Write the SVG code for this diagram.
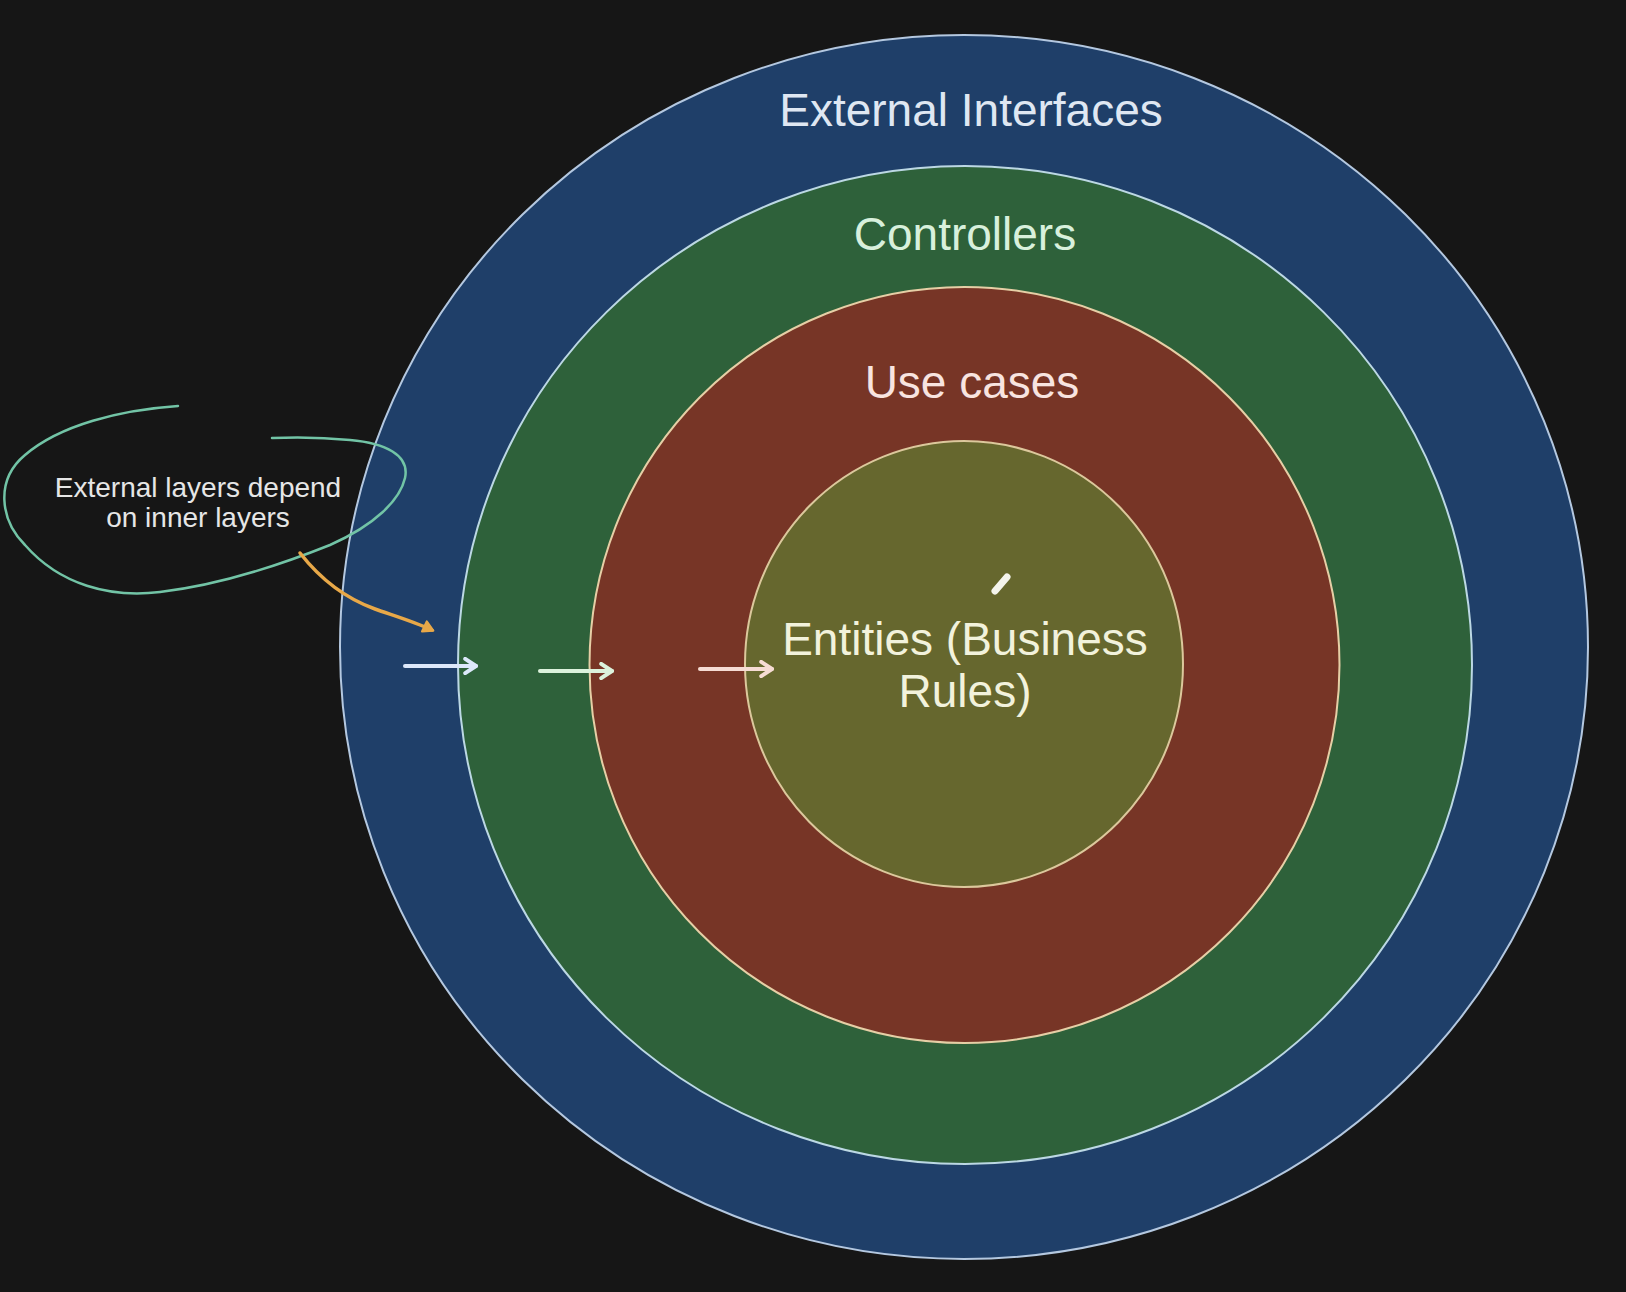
<svg xmlns="http://www.w3.org/2000/svg" width="1626" height="1292" viewBox="0 0 1626 1292">
<defs>
<style>
.lbl{font-family:"Liberation Sans",Arial,sans-serif;font-size:46px;text-anchor:middle}
.note{font-family:"Liberation Sans",Arial,sans-serif;font-size:28px;text-anchor:middle;fill:#e6e6e6}
.dep{fill:none;stroke-width:4;stroke-linecap:round}
</style>
<marker id="chev" viewBox="0 0 10 10" refX="8" refY="5" markerWidth="4.5" markerHeight="4.5" orient="auto" markerUnits="strokeWidth">
<path d="M2,1 L8,5 L2,9" fill="none" stroke="context-stroke" stroke-width="2.2" stroke-linecap="round" stroke-linejoin="round"/>
</marker>
<marker id="chevO" viewBox="0 0 10 10" refX="7" refY="5" markerWidth="4" markerHeight="4" orient="auto" markerUnits="strokeWidth">
<path d="M1,1 L8,5 L1,9 Z" fill="#e8a848" stroke="#e8a848" stroke-width="1.5" stroke-linejoin="round"/>
</marker>
</defs>
<rect x="0" y="0" width="1626" height="1292" fill="#161616"/>
<g id="external-interfaces">
<ellipse cx="964" cy="647" rx="624" ry="612" fill="#1f3f69" stroke="#b4c8e0" stroke-width="2"/>
<text class="lbl" x="971" y="126" fill="#dfe7f2">External Interfaces</text>
</g>
<g id="controllers">
<ellipse cx="965" cy="665" rx="507" ry="499" fill="#2e613a" stroke="#bcd8e4" stroke-width="2"/>
<text class="lbl" x="965" y="250" fill="#d8f0dc">Controllers</text>
</g>
<g id="use-cases">
<ellipse cx="964.5" cy="665" rx="375" ry="378" fill="#773526" stroke="#e6cfa6" stroke-width="2"/>
<text class="lbl" x="972" y="398" fill="#f8e4e0">Use cases</text>
</g>
<g id="entities">
<ellipse cx="964" cy="664" rx="219" ry="223" fill="#66672e" stroke="#dcc89c" stroke-width="2"/>
<text class="lbl" x="965" y="655" fill="#f2f2dc">Entities (Business</text>
<text class="lbl" x="965" y="707" fill="#f2f2dc">Rules)</text>
</g>
<g id="note">
<path d="M178,406 C120,410 60,425 25,455 C-5,480 0,520 25,545 C60,585 110,598 160,592 C220,585 280,565 330,545 C375,525 400,500 405,478 C410,455 385,443 350,440 C320,437 295,437 272,438" fill="none" stroke="#72c4a6" stroke-width="2.5" stroke-linecap="round"/>
<text class="note" x="198" y="497">External layers depend</text>
<text class="note" x="198" y="527">on inner layers</text>
</g>
<g id="connectors">
<path d="M300,553 C325,585 350,600 375,609 C395,616 415,622 432,630" fill="none" stroke="#e8a848" stroke-width="3.5" stroke-linecap="round" marker-end="url(#chevO)"/>
<line class="dep" x1="405" y1="666" x2="476" y2="666" stroke="#dce8fa" marker-end="url(#chev)"/>
<line class="dep" x1="540" y1="671" x2="612" y2="671" stroke="#dcf2dc" marker-end="url(#chev)"/>
<line class="dep" x1="700" y1="669" x2="772" y2="669" stroke="#f6dcd4" marker-end="url(#chev)"/>
</g>
<line x1="995" y1="591" x2="1007" y2="577" stroke="#f4f4ec" stroke-width="7" stroke-linecap="round"/>
</svg>
